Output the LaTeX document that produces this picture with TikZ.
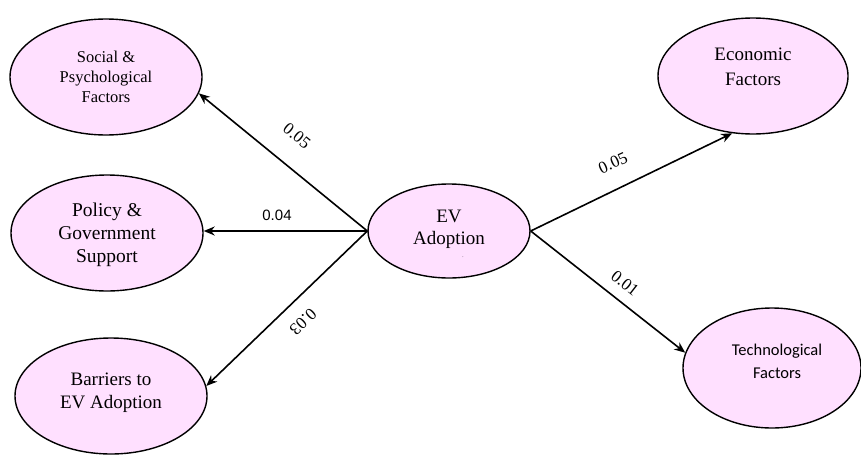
\documentclass[tikz,border=0pt]{standalone}
\usepackage{fontspec}
\setmainfont{Liberation Serif}
\newfontfamily\calib{Carlito}
\newfontfamily\arialf{Liberation Sans}
\usetikzlibrary{shapes.geometric,arrows.meta}
\definecolor{pinkfill}{RGB}{255,224,255}
\tikzset{
  factor/.style={ellipse, draw=black, line width=1.4pt, fill=pinkfill, inner sep=0pt},
  ftext/.style={align=center, inner sep=0pt},
  conn/.style={line width=1.6pt, -{Stealth[length=11pt,width=9pt]}},
  wlabel/.style={inner sep=0pt, font=\fontsize{17}{19}\selectfont}
}
\begin{document}
\begin{tikzpicture}[x=1pt,y=-1pt]
\useasboundingbox (0,0) rectangle (861,455);
% ellipses
\node[factor, minimum width=192pt, minimum height=116pt] (social) at (106,77) {};
\node[factor, minimum width=192pt, minimum height=116pt] (policy) at (107,233) {};
\node[factor, minimum width=192pt, minimum height=116pt] (barriers) at (111,396) {};
\node[factor, minimum width=162pt, minimum height=94pt] (ev) at (449,231) {};
\node[factor, minimum width=190pt, minimum height=116pt] (econ) at (753,76) {};
\node[factor, minimum width=178pt, minimum height=120pt] (tech) at (772,368) {};
% texts
\node[ftext, font=\fontsize{16.5}{20}\selectfont] (socialtxt) at (106,77) {Social \&\\Psychological\\Factors};
\node[ftext, font=\fontsize{19.5}{23}\selectfont] (policytxt) at (107,235) {Policy \&\\Government\\Support};
\node[ftext, font=\fontsize{19}{23}\selectfont] (barrierstxt) at (111,393) {Barriers to\\EV Adoption};
\node[ftext, font=\fontsize{19}{22}\selectfont] (evtxt) at (449,229) {EV\\Adoption};
\node[ftext, font=\fontsize{5}{6}\selectfont] (evdot) at (463,257) {.};
\node[ftext, font=\fontsize{19}{25}\selectfont] (econtxt) at (753,67) {Economic\\Factors};
\node[ftext, font=\calib\fontsize{16.5}{23}\selectfont] (techtxt) at (777,361) {Technological\\Factors};
% connectors
\draw[conn] (ev.west) -- (social.-10);
\draw[conn] (ev.west) -- (ev.west -| policy.east);
\draw[conn] (ev.west) -- (barriers.6);
\draw[conn] (ev.east) -- (econ.-110);
\draw[conn] (ev.east) -- (tech.170);
% labels
\node[wlabel, rotate=-39.4] (l1) at (297,136) {0.05};
\node[wlabel, font=\arialf\fontsize{15}{17}\selectfont] (l2) at (277,215) {0.04};
\node[wlabel, rotate=223.4] (l3) at (303,322) {0.03};
\node[wlabel, rotate=24.4] (l4) at (613,163) {0.05};
\node[wlabel, rotate=-38] (l5) at (625,283) {0.01};
\end{tikzpicture}
\end{document}
